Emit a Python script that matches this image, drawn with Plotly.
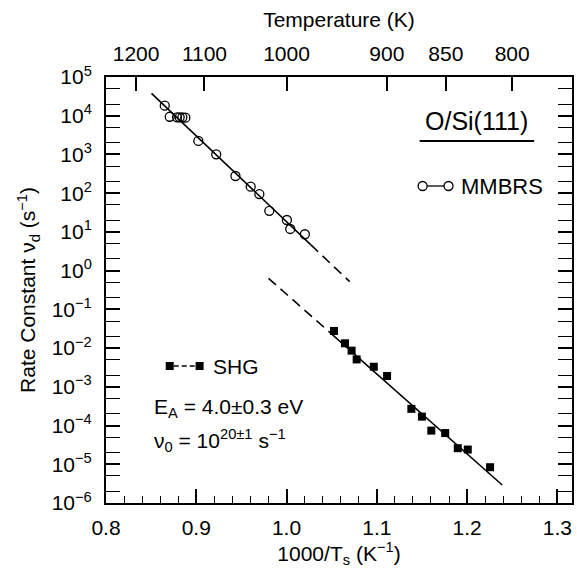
import plotly.graph_objects as go

# ---- data ----
mmbrs_x = [0.8651, 0.8706, 0.8787, 0.8816, 0.8846, 0.8879, 0.9023, 0.9221,
           0.9434, 0.9603, 0.9699, 0.9809, 1.0004, 1.0041, 1.0203]
mmbrs_y = [1.82e4, 9.4e3, 9.1e3, 9.1e3, 9.1e3, 8.9e3, 2.23e3, 1.01e3,
           278, 147, 95, 35, 20.3, 11.9, 8.7]

shg_x = [1.0526, 1.0648, 1.0721, 1.0777, 1.0967, 1.1114, 1.1383, 1.1500,
         1.1604, 1.1758, 1.1897, 1.2008, 1.2255]
shg_y = [2.77e-2, 1.33e-2, 8.6e-3, 5.1e-3, 3.3e-3, 1.9e-3, 2.7e-4, 1.7e-4,
         7.4e-5, 6.4e-5, 2.6e-5, 2.4e-5, 8.4e-6]

# fit lines: solid part and dashed extrapolation
mmbrs_fit_solid_x = [0.8504, 1.027]
mmbrs_fit_solid_y = [3.79e4, 4.63]
mmbrs_fit_dash_x = [1.027, 1.070]
mmbrs_fit_dash_y = [4.63, 0.519]

shg_fit_dash_x = [0.980, 1.047]
shg_fit_dash_y = [0.634, 0.0266]
shg_fit_solid_x = [1.047, 1.239]
shg_fit_solid_y = [0.0266, 2.92e-6]

x_ticks = [0.8, 0.9, 1.0, 1.1, 1.2, 1.3]
temp_ticks = [1200, 1100, 1000, 900, 850, 800]
y_exps = list(range(-6, 6))

FONT = "Liberation Sans, Arial, Helvetica, sans-serif"
W, H = 577, 569
L, R, T, B = 106, 3, 77, 66
PW, PH = W - L - R, H - T - B

def px(x):
    return (x - L) / PW

def py(y):
    return (H - B - y) / PH

fig = go.Figure()

fig.add_trace(go.Scatter(x=mmbrs_fit_solid_x, y=mmbrs_fit_solid_y, mode="lines",
                         line=dict(color="black", width=1.6), showlegend=False))
fig.add_trace(go.Scatter(x=mmbrs_fit_dash_x, y=mmbrs_fit_dash_y, mode="lines",
                         line=dict(color="black", width=1.6, dash="10px,6px"), showlegend=False))
fig.add_trace(go.Scatter(x=shg_fit_dash_x, y=shg_fit_dash_y, mode="lines",
                         line=dict(color="black", width=1.6, dash="10px,6px"), showlegend=False))
fig.add_trace(go.Scatter(x=shg_fit_solid_x, y=shg_fit_solid_y, mode="lines",
                         line=dict(color="black", width=1.6), showlegend=False))

fig.add_trace(go.Scatter(x=mmbrs_x, y=mmbrs_y, mode="markers",
                         marker=dict(symbol="circle-open", size=9, color="black",
                                     line=dict(width=1.3, color="black")),
                         showlegend=False))
fig.add_trace(go.Scatter(x=shg_x, y=shg_y, mode="markers",
                         marker=dict(symbol="square", size=8, color="black"),
                         showlegend=False))

# invisible trace to activate top axis
tx = [1000.0 / t for t in temp_ticks]
fig.add_trace(go.Scatter(x=tx, y=[1] * len(tx), xaxis="x2", mode="markers",
                         marker=dict(opacity=0), hoverinfo="skip", showlegend=False))

xr = [0.8, 0.8 + 468 / 906.5]

fig.update_layout(
    width=W, height=H,
    margin=dict(l=L, r=R, t=T, b=B),
    paper_bgcolor="white", plot_bgcolor="white",
    font=dict(family=FONT, size=21, color="black"),
    xaxis=dict(range=xr, tickvals=x_ticks, ticktext=[f"{v:.1f}" for v in x_ticks],
               ticks="inside", ticklen=14, tickwidth=1.5, tickcolor="black",
               minor=dict(dtick=0.02, tick0=0.8, ticks="inside", ticklen=7,
                          tickwidth=1.2, tickcolor="black"),
               showline=True, linewidth=2, linecolor="black", mirror=False,
               showgrid=False, zeroline=False, ticklabelstandoff=5,
               title=dict(text="1000/T<sub>s</sub> (K<sup>−1</sup>)", standoff=5,
                          font=dict(size=21))),
    xaxis2=dict(overlaying="x", side="top", range=xr, tickvals=tx,
                ticktext=[str(t) for t in temp_ticks],
                ticks="inside", ticklen=14, tickwidth=1.5, tickcolor="black",
                showline=True, linewidth=2, linecolor="black",
                showgrid=False, zeroline=False, ticklabelstandoff=6,
                title=dict(text="Temperature (K)", standoff=8, font=dict(size=21))),
    yaxis=dict(type="log", range=[-6, 5], tickvals=[10.0 ** e for e in y_exps],
               ticktext=[f"10<sup>{e}</sup>".replace("-", "−") for e in y_exps],
               ticks="inside", ticklen=14, tickwidth=1.5, tickcolor="black",
               minor=dict(ticks="inside", ticklen=7, tickwidth=1.2, tickcolor="black"),
               showline=True, linewidth=2, linecolor="black", mirror="allticks",
               showgrid=False, zeroline=False, ticklabelstandoff=8,
               title=dict(text="Rate Constant ν<sub>d</sub> (s<sup>−1</sup>)", standoff=10,
                          font=dict(size=21))),
    showlegend=False,
)

ann = []
shapes = []
# O/Si(111) label with underline
ann.append(dict(x=px(478), y=py(121), xref="paper", yref="paper", text="O/Si(111)",
                showarrow=False, font=dict(size=25), xanchor="center", yanchor="middle"))
shapes.append(dict(type="line", xref="paper", yref="paper", x0=px(421), x1=px(536),
                   y0=py(141), y1=py(141), line=dict(color="black", width=2)))

# MMBRS legend
ly = 186
c1, c2 = 424, 450
for cx in (c1, c2):
    shapes.append(dict(type="circle", xref="paper", yref="paper",
                       xsizemode="pixel", ysizemode="pixel",
                       xanchor=px(cx), yanchor=py(ly), x0=-4.5, x1=4.5, y0=-4.5, y1=4.5,
                       line=dict(color="black", width=1.3), fillcolor="white"))
shapes.append(dict(type="line", xref="paper", yref="paper", x0=px(c1 + 4.5), x1=px(c2 - 4.5),
                   y0=py(ly), y1=py(ly), line=dict(color="black", width=1.3)))
ann.append(dict(x=px(461), y=py(ly), xref="paper", yref="paper", text="MMBRS",
                showarrow=False, font=dict(size=22), xanchor="left", yanchor="middle"))

# SHG legend
sy = 366
s1, s2 = 170, 200
for sx in (s1, s2):
    shapes.append(dict(type="rect", xref="paper", yref="paper",
                       xsizemode="pixel", ysizemode="pixel",
                       xanchor=px(sx), yanchor=py(sy), x0=-4, x1=4, y0=-4, y1=4,
                       line=dict(color="black", width=0), fillcolor="black"))
shapes.append(dict(type="line", xref="paper", yref="paper", x0=px(s1 + 4), x1=px(s2 - 4),
                   y0=py(sy), y1=py(sy), line=dict(color="black", width=1.3, dash="5px,3px")))
ann.append(dict(x=px(211), y=py(sy), xref="paper", yref="paper", text="SHG",
                showarrow=False, font=dict(size=21), xanchor="left", yanchor="middle"))

ann.append(dict(x=px(152), y=py(408), xref="paper", yref="paper",
                text="E<sub>A</sub> = 4.0±0.3 eV",
                showarrow=False, font=dict(size=21), xanchor="left", yanchor="middle"))
ann.append(dict(x=px(152), y=py(440), xref="paper", yref="paper",
                text="ν<sub>0</sub> = 10<sup>20±1</sup> s<sup>−1</sup>",
                showarrow=False, font=dict(size=21), xanchor="left", yanchor="middle"))

fig.update_layout(annotations=ann, shapes=shapes)

fig.write_html("out.html")
